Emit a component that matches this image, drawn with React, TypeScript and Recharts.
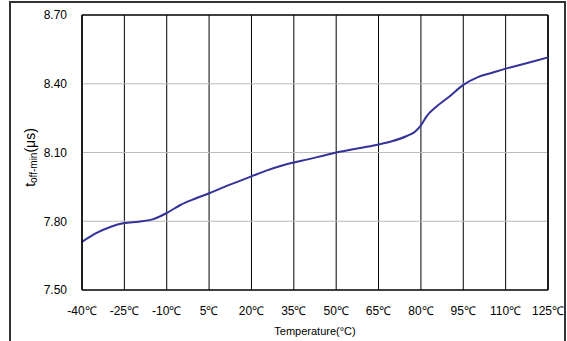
import {
  LineChart, Line, XAxis, YAxis, CartesianGrid, ReferenceLine, Label,
} from 'recharts';

const temps = [-40, -35, -30, -25, -20, -15, -10, -5, 0, 5, 10, 15, 20, 25, 30, 35, 40, 45, 50, 55, 60, 65, 70, 75, 78, 80, 82, 85, 90, 95, 100, 105, 110, 115, 120, 125];
const toffMin = [7.71, 7.748, 7.775, 7.792, 7.798, 7.808, 7.836, 7.872, 7.898, 7.922, 7.948, 7.972, 7.996, 8.02, 8.04, 8.056, 8.07, 8.085, 8.1, 8.112, 8.123, 8.135, 8.15, 8.172, 8.192, 8.218, 8.258, 8.295, 8.343, 8.395, 8.428, 8.447, 8.466, 8.482, 8.498, 8.515];

const xTicks = [-40, -25, -10, 5, 20, 35, 50, 65, 80, 95, 110, 125];
const yTicks = [7.5, 7.8, 8.1, 8.4, 8.7];

const data = temps.map((t, i) => ({ t, v: toffMin[i] }));

const FONT = '"Liberation Sans", Arial, sans-serif';

// eslint-disable-next-line @typescript-eslint/no-explicit-any
const YLabel = ({ viewBox }: any) => {
  const cx = 30;
  const cy = viewBox ? viewBox.y + viewBox.height / 2 + 5 : 157;
  return (
    <text
      x={cx} y={cy} textAnchor="middle" dominantBaseline="central"
      transform={`rotate(-90, ${cx}, ${cy})`}
      style={{ fontFamily: FONT, fontSize: 14, fill: '#000' }}
    >
      <tspan>t</tspan>
      <tspan fontSize={10} dy={3}>off-min</tspan>
      <tspan dy={-3}>(μs)</tspan>
    </text>
  );
};

export default function App() {
  return (
    <div style={{ position: 'fixed', left: 0, top: 0, width: 567, height: 341, overflow: 'hidden', background: '#fff' }}>
      <div style={{
        position: 'absolute', left: 9, top: 1, width: 557, height: 400,
        boxSizing: 'border-box', border: '2px solid #333',
      }} />
      <div style={{ position: 'absolute', left: 0, top: 0 }}>
        <LineChart width={567} height={341} data={data}
          margin={{ top: 15, right: 19, left: 0, bottom: 0 }}>
          <CartesianGrid horizontal={false} stroke="#000" strokeWidth={1} />
          {yTicks.slice(1, -1).map(y => (
            <ReferenceLine key={y} y={y} stroke="#bbb" strokeWidth={1} />
          ))}
          <ReferenceLine y={8.7} stroke="#000" strokeWidth={1.5} />
          <ReferenceLine x={125} stroke="#000" strokeWidth={1.5} />
          <XAxis
            type="number" dataKey="t" domain={[-40, 125]} ticks={xTicks}
            height={51} interval={0}
            tickFormatter={v => `${v}℃`}
            tick={{ fontSize: 12, fill: '#000', fontFamily: FONT }}
            axisLine={{ stroke: '#000', strokeWidth: 1.5 }} tickLine={false}
            tickSize={6} tickMargin={10}
          >
            <Label value="Temperature(°C)" position="insideBottom" offset={6}
              style={{ fontSize: 11, fill: '#000', fontFamily: FONT }} />
          </XAxis>
          <YAxis
            type="number" domain={[7.5, 8.7]} ticks={yTicks} width={82}
            interval={0}
            tickFormatter={v => v.toFixed(2)}
            tick={{ fontSize: 12, fill: '#000', fontFamily: FONT }}
            axisLine={{ stroke: '#000', strokeWidth: 1.5 }} tickLine={false}
            tickSize={6} tickMargin={9}
            label={<YLabel />}
          />
          <Line type="monotone" dataKey="v" stroke="#333399" strokeWidth={2}
            dot={false} isAnimationActive={false} />
        </LineChart>
      </div>
    </div>
  );
}
